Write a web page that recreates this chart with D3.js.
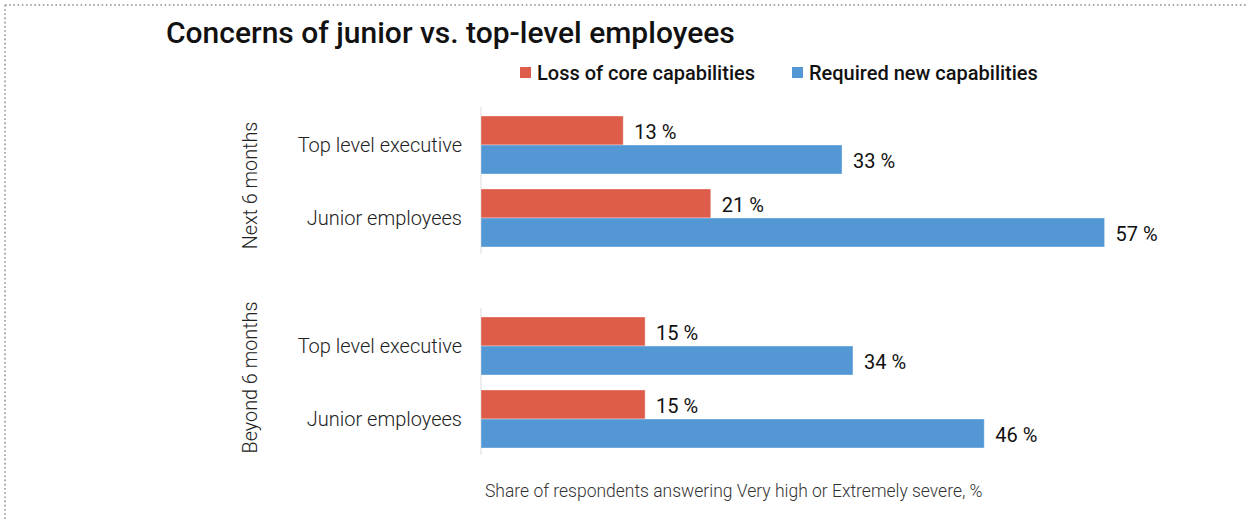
<!DOCTYPE html>
<html>
<head>
<meta charset="utf-8">
<script src="https://cdn.jsdelivr.net/npm/d3@7/dist/d3.min.js"></script>
<style>
  html, body { margin: 0; padding: 0; background: #fff; }
  svg { display: block; }
</style>
</head>
<body>
<svg id="chart" width="1248" height="520"></svg>
<script>
// Survey data: share of respondents answering "Very high" or "Extremely severe"
const periods = ["Next 6 months", "Beyond 6 months"];
const categories = ["Top level executive", "Junior employees"];
const seriesNames = ["Loss of core capabilities", "Required new capabilities"];
const lossOfCore = [[13, 21], [15, 15]];        // by period, then category
const requiredNew = [[33, 57], [34, 46]];       // by period, then category
const footnote = "Share of respondents answering Very high or Extremely severe, %";
const title = "Concerns of junior vs. top-level employees";

const colors = { "Loss of core capabilities": "#DE5C4A", "Required new capabilities": "#5398D4" };
const font = "Roboto, 'DejaVu Sans', sans-serif";

const svg = d3.select("#chart");

// dotted frame along the top and left edges
svg.append("line").attr("x1", 5).attr("x2", 1248).attr("y1", 5).attr("y2", 5)
  .attr("stroke", "#a8a8a8").attr("stroke-width", 2).attr("stroke-dasharray", "1.6 2.6");
svg.append("line").attr("x1", 5).attr("x2", 5).attr("y1", 5).attr("y2", 520)
  .attr("stroke", "#a8a8a8").attr("stroke-width", 2).attr("stroke-dasharray", "1.6 2.6");

// title
svg.append("text").attr("x", 166).attr("y", 43)
  .attr("font-family", font).attr("font-size", 30).attr("font-weight", 500)
  .attr("fill", "#111").text(title);

// legend
const legend = svg.append("g").attr("font-family", font).attr("font-size", 20)
  .attr("font-weight", 500).attr("fill", "#111");
const legendX = [520, 792];
seriesNames.forEach((s, i) => {
  legend.append("rect").attr("x", legendX[i]).attr("y", 67).attr("width", 11).attr("height", 11)
    .attr("fill", colors[s]);
  legend.append("text").attr("x", legendX[i] + 17).attr("y", 80).text(s);
});

// scales
const x = d3.scaleLinear().domain([0, 60]).range([481, 481 + 656.4]);
const yPeriod = d3.scaleBand().domain(periods).range([107, 455]).paddingInner(0.2687);
const yCat = d3.scaleBand().domain(categories).range([9, 140]).paddingInner(0.2055);
const ySeries = d3.scaleBand().domain(seriesNames).range([0, yCat.bandwidth()]);

const seriesData = { "Loss of core capabilities": lossOfCore, "Required new capabilities": requiredNew };
const periodLabelShift = [5, -4];

periods.forEach((p, pi) => {
  const g = svg.append("g").attr("transform", `translate(0,${yPeriod(p)})`);

  // vertical baseline
  g.append("line").attr("x1", x(0)).attr("x2", x(0)).attr("y1", 0).attr("y2", yPeriod.bandwidth())
    .attr("stroke", "#dcdcdc").attr("stroke-width", 1);

  // period label, rotated
  g.append("text")
    .attr("transform", `translate(257,${yPeriod.bandwidth() / 2 + periodLabelShift[pi]}) rotate(-90)`)
    .attr("text-anchor", "middle")
    .attr("font-family", font).attr("font-size", 19.8).attr("font-weight", 300)
    .attr("fill", "#222").text(p);

  categories.forEach((c, ci) => {
    const cg = g.append("g").attr("transform", `translate(0,${yCat(c)})`);

    cg.append("text").attr("x", 462).attr("y", yCat.bandwidth() / 2)
      .attr("text-anchor", "end").attr("dominant-baseline", "central")
      .attr("font-family", font).attr("font-size", 20).attr("font-weight", 300)
      .attr("fill", "#222").text(c);

    seriesNames.forEach(s => {
      const v = seriesData[s][pi][ci];
      cg.append("rect")
        .attr("x", x(0)).attr("y", ySeries(s))
        .attr("width", x(v) - x(0)).attr("height", ySeries.bandwidth())
        .attr("fill", colors[s])
        .attr("stroke", "rgba(255,255,255,0.35)").attr("stroke-width", 1);
      cg.append("text")
        .attr("x", x(v) + 11).attr("y", ySeries(s) + ySeries.bandwidth() / 2 + 2)
        .attr("dominant-baseline", "central")
        .attr("font-family", font).attr("font-size", 20).attr("font-weight", 400)
        .attr("fill", "#111").text(`${v} %`);
    });
  });
});

// footnote
svg.append("text").attr("x", 485).attr("y", 497)
  .attr("font-family", font).attr("font-size", 17.5).attr("font-weight", 300)
  .attr("fill", "#333").text(footnote);
</script>
</body>
</html>
